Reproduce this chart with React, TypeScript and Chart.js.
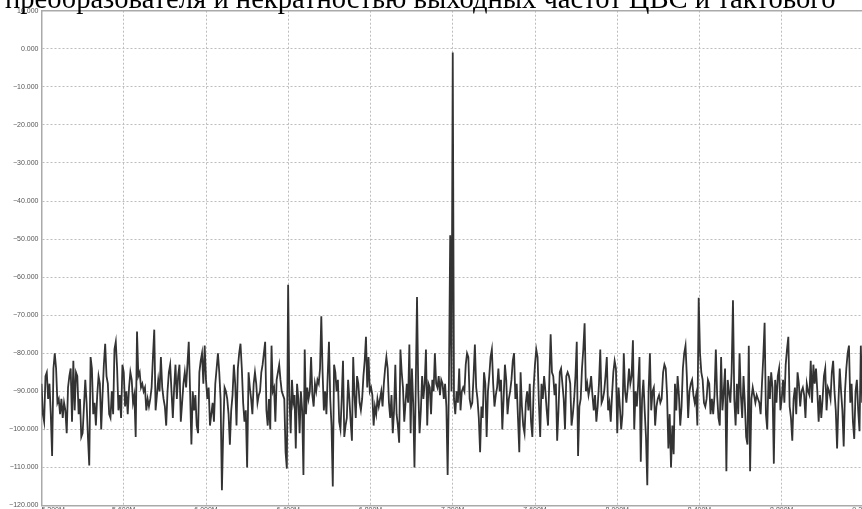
import { useEffect, useRef } from "react";
import { Chart, registerables } from "chart.js";

Chart.register(...registerables);

const TITLE = "преобразователя и некратностью выходных частот ЦВС и тактового";

// Frequency axis ticks (MHz) and level axis ticks (dB)
const xTickValues = [5.2, 5.6, 6.0, 6.4, 6.8, 7.2, 7.6, 8.0, 8.4, 8.8, 9.2];
const yTickValues = [10, 0, -10, -20, -30, -40, -50, -60, -70, -80, -90, -100, -110, -120];

// Spectrum trace, read in four consecutive chunks (dB)
const seg1 = [-88,-96,-98,-86,-85,-92,-88,-96,-107,-84,-80,-84,-93,-92,-96,-92,-97,-93,-95,-101,-89,-86,-84,-98,-82,-95,-85,-86,-96,-92,-102,-101,-94,-87,-93,-102,-109.5,-81,-84,-96,-93,-99,-91,-86,-88,-100,-91,-83,-77.5,-86,-88,-96,-97,-90,-96,-79,-77,-84,-95,-91,-97,-83,-85,-94,-90,-96,-89,-85,-87,-93,-91,-102,-74.3,-86,-85,-89,-88,-90,-89,-95,-92,-94,-92,-89,-81,-73.8,-95,-91,-87,-90,-81,-89,-92,-94,-99,-90,-85,-83,-90,-97,-89,-83,-92,-86,-83,-98,-93,-88,-85,-89,-83,-77,-90,-104,-90,-95,-91,-99,-101,-85,-82,-80,-88,-78,-87,-92,-89,-99,-96,-93,-98,-88,-84,-80,-85,-92,-116,-100,-89,-90,-92,-96,-104,-95,-91,-83,-88,-99,-84,-80,-77.5,-84,-93,-98,-95,-110];
const seg2 = [-85,-89,-92,-96,-88,-85,-88,-93,-91,-90,-85,-83,-80,-77,-95,-99,-92,-100,-78,-90,-89,-98,-87,-85,-83,-87,-90,-91,-92,-106,-110.3,-62,-91,-101,-87,-93,-91,-105,-88,-92,-101,-90,-95,-112,-79,-96,-89,-92,-90,-81,-91,-94,-88,-90,-87,-88,-84,-70.3,-85,-95,-90,-96,-86,-77,-92,-99,-115,-83,-85,-90,-87,-98,-100,-92,-82,-102,-99,-97,-87,-92,-98,-103,-81,-91,-97,-86,-88,-93,-95,-92,-86,-82,-75.7,-89,-81,-90,-89,-91,-99,-94,-96,-92,-94,-92,-90,-94,-88,-84,-81,-84,-93,-97,-91,-101,-95,-83,-96,-99,-103.5,-79,-85,-89,-98,-93,-88,-93,-77.7,-101,-84,-93,-110,-89,-65.2,-90,-101,-95,-86,-92,-88,-79,-99,-88,-89,-96,-87,-90,-80,-88,-89,-86,-91,-87,-88,-92,-88,-94,-112,-88,-49,-90,-1];
const seg3 = [-92,-96,-90,-93,-84,-95,-90,-89,-90,-83,-80,-81,-92,-94,-93,-86,-77.7,-89,-92,-97,-106,-94,-97,-85,-88,-102,-90,-86,-81,-79,-88,-94,-91,-89,-84,-90,-87,-100,-92,-83,-87,-96,-92,-90,-87,-82,-80,-92,-88,-97,-106,-85,-94,-99,-101,-93,-90,-95,-88,-98,-102,-89,-83,-79,-81,-93,-102,-88,-92,-86,-90,-95,-99,-87,-75,-85,-86,-91,-88,-103,-95,-85,-84,-88,-92,-100,-86,-85,-86,-88,-99,-96,-92,-86,-77,-107,-94,-92,-84,-79,-72.1,-90,-88,-91,-89,-86,-91,-95,-91,-98,-94,-88,-79,-93,-92,-90,-86,-81,-95,-93,-98,-91,-85,-82,-84,-101,-89,-94,-100,-96,-80,-90,-93,-89,-84,-88,-86,-76.6,-100,-90,-94,-88,-81,-108.5,-92,-87,-95,-102,-114.7,-90,-80,-95,-90,-89,-99,-94,-92,-91,-93,-92];
const seg4 = [-85,-83,-84,-91,-105,-96,-110,-99,-106.5,-88,-95,-86,-91,-99,-94,-84,-80,-78,-86,-97,-90,-88,-87,-91,-93,-91,-99,-65.4,-80,-85,-87,-93,-94,-92,-87,-88,-96,-92,-96,-91,-79,-91,-97,-99,-81,-95,-90,-84,-111,-87,-90,-93,-85,-66.1,-92,-99,-88,-96,-80,-91,-97,-86,-93,-102,-104,-78,-111,-92,-89,-91,-93,-91,-92,-93,-96,-88,-81,-72,-96,-100,-86,-92,-85,-89,-109,-87,-93,-86,-84,-95,-92,-87,-93,-83,-79,-75.7,-94,-97,-103,-92,-89,-96,-85,-88,-94,-90,-89,-91,-97,-88,-90,-91,-82,-93,-83,-88,-84,-90,-98,-91,-97,-92,-86,-84,-95,-89,-90,-92,-85,-82,-90,-95,-105,-93,-84,-90,-95,-104.5,-90,-84,-80,-78,-93,-88,-98,-102.5,-90,-87,-95,-100.5,-78,-93];

// Frequency span (MHz) of each chunk
const segStartMHz = [5.2, 6.207, 7.206, 8.223];
const segEndMHz = [6.2, 7.2, 8.216, 9.191];

const segments = [seg1, seg2, seg3, seg4];

const fmtY = (v: number) => (v < 0 ? "\u2212" : "") + Math.abs(v).toFixed(3);
const fmtX = (v: number) => v.toFixed(3) + "M";

export default function App() {
  const ref = useRef<HTMLCanvasElement | null>(null);

  useEffect(() => {
    const canvas = ref.current;
    if (!canvas) return;
    const points = segments.flatMap((vals, s) =>
      vals.map((v, i) => ({
        x: segStartMHz[s] + ((segEndMHz[s] - segStartMHz[s]) * i) / (vals.length - 1),
        y: v,
      }))
    );

    const framePlugin = {
      id: "frame",
      afterDraw(chart: any) {
        const { ctx, chartArea } = chart;
        ctx.save();
        ctx.strokeStyle = "#aaaaaa";
        ctx.lineWidth = 1.5;
        ctx.beginPath();
        ctx.moveTo(chartArea.left, chartArea.top);
        ctx.lineTo(chartArea.right + 10, chartArea.top);
        ctx.stroke();
        const xs = chart.scales.x;
        ctx.fillStyle = "#555555";
        ctx.font = "7px 'Liberation Sans'";
        ctx.textBaseline = "top";
        xTickValues.forEach((v, i) => {
          const px = xs.getPixelForValue(v);
          ctx.textAlign = i === 0 ? "left" : "center";
          ctx.fillText(fmtX(v), px, chartArea.bottom + 1.5);
        });
        ctx.restore();
      },
    };

    const chart = new Chart(canvas, {
      type: "line",
      data: {
        datasets: [
          {
            data: points,
            borderColor: "#333333",
            borderWidth: 1.8,
            pointRadius: 0,
            tension: 0,
            fill: false,
          },
        ],
      },
      options: {
        animation: false,
        responsive: false,
        maintainAspectRatio: false,
        devicePixelRatio: 1,
        parsing: false as any,
        normalized: true,
        layout: { padding: { top: 10.7, right: 2, bottom: 0, left: 0 } },
        plugins: { legend: { display: false }, tooltip: { enabled: false }, title: { display: false } },
        scales: {
          x: {
            type: "linear",
            min: 5.2,
            max: 9.2,
            afterBuildTicks: (s: any) => {
              s.ticks = xTickValues.map((v) => ({ value: v }));
            },
            ticks: { display: false },
            grid: { color: "#bdbdbd", lineWidth: 1, drawTicks: false },
            border: { display: true, color: "#aaaaaa", width: 1.5, dash: [2, 2] },
            afterFit: (s: any) => {
              s.height = 14.5;
            },
          },
          y: {
            type: "linear",
            min: -120,
            max: 10,
            afterBuildTicks: (s: any) => {
              s.ticks = yTickValues.map((v) => ({ value: v }));
            },
            ticks: {
              callback: (v: any) => fmtY(Number(v)),
              font: { family: "'Liberation Sans'", size: 7 },
              color: "#555555",
              padding: 3,
            },
            grid: { color: "#bdbdbd", lineWidth: 1, drawTicks: false },
            border: { display: true, color: "#aaaaaa", width: 1.5, dash: [2, 2] },
            afterFit: (s: any) => {
              s.width = 41.5;
            },
          },
        },
      },
      plugins: [framePlugin],
    });

    return () => chart.destroy();
  }, []);

  return (
    <div
      style={{
        position: "fixed",
        left: 0,
        top: 0,
        width: 862,
        height: 509,
        overflow: "hidden",
        background: "#ffffff",
      }}
    >
      <canvas
        ref={ref}
        width={866}
        height={520}
        style={{ position: "absolute", left: 0, top: 0, width: 866, height: 520 }}
      />
      <div
        style={{
          position: "absolute",
          left: 5,
          top: -16.2,
          fontFamily: "'Liberation Serif', 'Times New Roman', serif",
          fontSize: 28.6,
          lineHeight: "29px",
          color: "#000",
          whiteSpace: "nowrap",
        }}
      >
        {TITLE}
      </div>
    </div>
  );
}
